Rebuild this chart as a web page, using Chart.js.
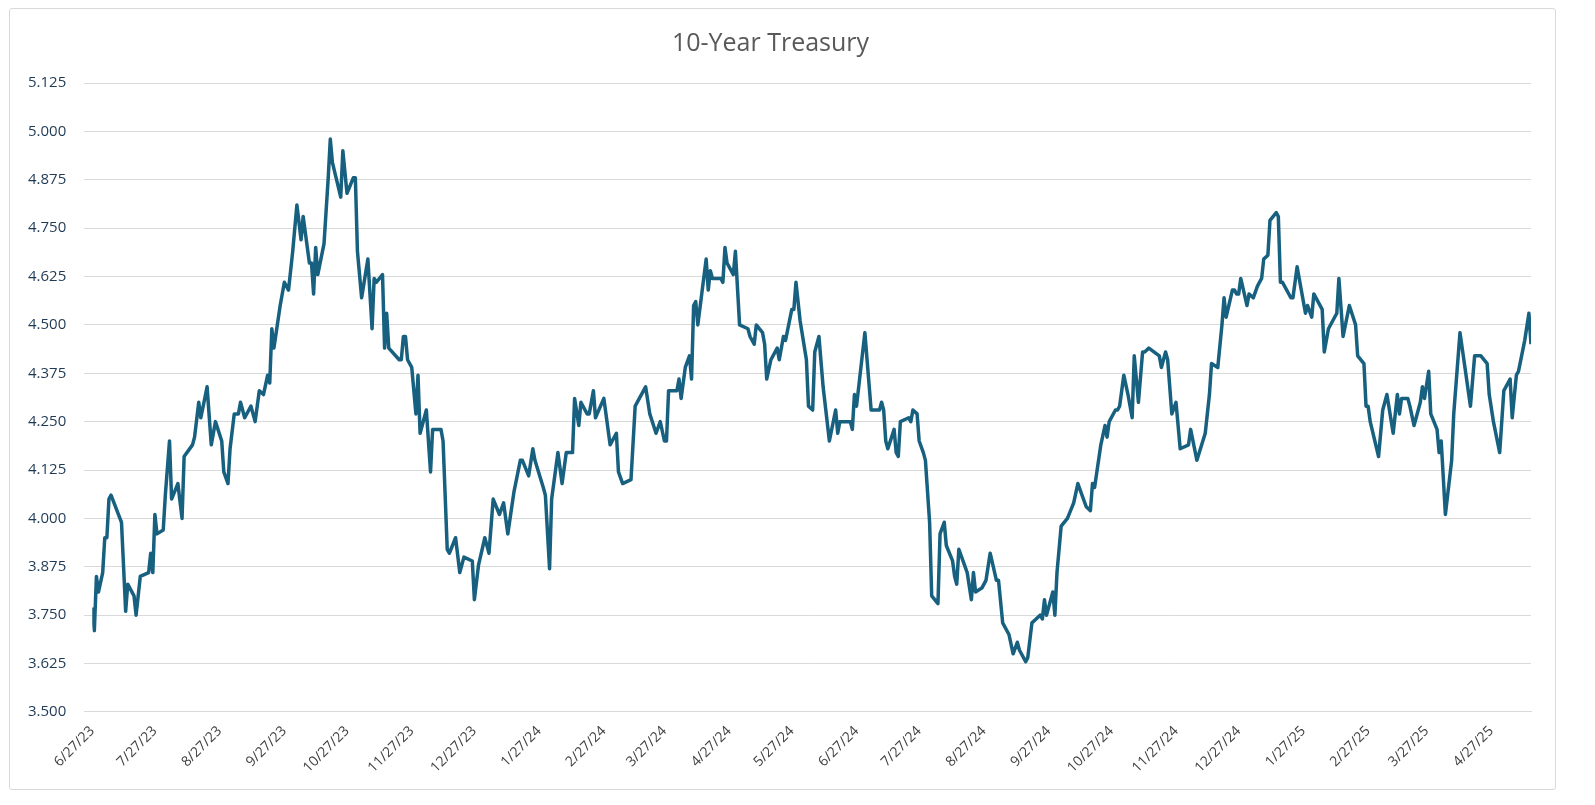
<!DOCTYPE html>
<html>
<head>
<meta charset="utf-8">
<script src="https://cdn.jsdelivr.net/npm/chart.js@4.4.1/dist/chart.umd.min.js"></script>
<style>
body{margin:0;background:#fff;font-family:"Open Sans",sans-serif}
#box{position:absolute;left:9px;top:8px;width:1547px;height:782px;border:1px solid #d9d9d9;border-radius:3px;box-sizing:border-box}
</style>
</head>
<body>
<div id="box"><canvas id="c"></canvas></div>
<script>
// days since start date, and 10-year yield (%)
const startDate = "2023-06-27"
const days = [0,1,2,3,5,6,7,8,9,14,16,17,20,21,23,27,28,29,30,31,34,35,37,38,41,43,44,48,49,51,52,55,57,59,62,63,65,66,68,70,71,73,76,78,80,82,84,85,86,87,90,92,94,96,98,100,101,104,105,106,107,108,111,113,114,115,119,120,122,125,126,127,129,132,134,135,136,139,140,141,142,147,148,149,150,151,
153,155,156,157,160,162,163,167,168,170,171,174,176,178,182,183,185,188,190,192,195,197,199,202,205,206,209,211,212,216,217,219,220,223,225,227,230,231,233,234,237,238,240,241,245,248,251,252,254,258,260,262,265,267,270,272,274,275,276,280,281,282,284,286,287,288,289,290,294,295,296,297,301,302,
303,304,307,308,310,314,315,317,318,321,322,323,325,328,329,331,332,335,336,337,339,342,343,345,346,348,350,353,356,357,358,363,364,365,366,370,373,377,378,379,380,381,384,385,386,387,391,392,393,395,396,398,399,401,402,405,406,408,409,412,413,414,415,417,419,421,422,423,426,428,430,433,434,436,439,441,443,444,447,448,450,452,454,455,456,457,460,461,462,464,
467,470,472,476,478,479,480,483,485,486,487,490,491,492,494,496,498,499,501,503,504,506,511,512,514,515,517,519,521,525,526,529,533,535,536,539,541,542,543,546,547,548,549,550,553,554,556,558,560,561,563,564,567,568,569,570,574,575,577,581,582,584,585,589,590,592,594,596,597,599,602,605,606,609,610,611,612,616,618,620,623,625,626,627,630,631,633,636,637,638,640,641,644,645,646,648,651,652,655,660,662,665,668,669,671,674,676,679,680,682,683,686,688,689]
const yields = [3.77,3.71,3.85,3.81,3.86,3.95,3.95,4.05,4.06,3.99,3.76,3.83,3.80,3.75,3.85,3.86,3.91,3.86,4.01,3.96,3.97,4.06,4.20,4.05,4.09,4.00,4.16,4.19,4.21,4.30,4.26,4.34,4.19,4.25,4.20,4.12,4.09,4.18,4.27,4.27,4.30,4.26,4.29,4.25,4.33,4.32,4.37,4.35,4.49,4.44,4.55,4.61,4.59,4.69,4.81,4.72,4.78,4.66,4.66,4.58,4.70,4.63,4.71,4.88,4.98,4.92,4.83,4.95,4.84,4.88,4.88,4.69,4.57,4.67,4.49,4.62,4.61,4.63,4.44,4.53,4.44,4.41,4.41,4.47,4.47,4.41,
4.39,4.27,4.37,4.22,4.28,4.12,4.23,4.23,4.20,3.92,3.91,3.95,3.86,3.90,3.89,3.79,3.88,3.95,3.91,4.05,4.01,4.04,3.96,4.07,4.15,4.15,4.11,4.18,4.15,4.08,4.06,3.87,4.05,4.17,4.09,4.17,4.17,4.31,4.24,4.30,4.27,4.27,4.33,4.26,4.31,4.19,4.22,4.12,4.09,4.10,4.29,4.31,4.34,4.27,4.22,4.25,4.20,4.20,4.33,4.33,4.36,4.31,4.39,4.42,4.36,4.55,4.56,4.50,4.67,4.59,4.64,4.62,4.62,4.61,
4.70,4.66,4.63,4.69,4.50,4.49,4.47,4.45,4.50,4.48,4.45,4.36,4.41,4.44,4.41,4.47,4.46,4.54,4.54,4.61,4.51,4.41,4.29,4.28,4.43,4.47,4.34,4.20,4.28,4.22,4.25,4.25,4.23,4.32,4.29,4.48,4.28,4.28,4.30,4.28,4.20,4.18,4.23,4.17,4.16,4.25,4.26,4.25,4.28,4.27,4.20,4.17,4.15,3.99,3.80,3.78,3.96,3.99,3.93,3.89,3.85,3.83,3.92,3.89,3.86,3.79,3.86,3.81,3.82,3.84,3.91,3.84,3.84,3.73,3.70,3.65,3.68,3.66,3.63,3.64,3.73,3.74,3.75,3.74,3.79,3.75,3.81,3.75,3.86,3.98,
4.00,4.04,4.09,4.03,4.02,4.09,4.08,4.19,4.24,4.21,4.25,4.28,4.28,4.29,4.37,4.32,4.26,4.42,4.30,4.43,4.43,4.44,4.42,4.39,4.43,4.41,4.27,4.30,4.18,4.19,4.23,4.15,4.22,4.32,4.40,4.39,4.50,4.57,4.52,4.59,4.59,4.58,4.58,4.62,4.55,4.58,4.57,4.60,4.62,4.67,4.68,4.77,4.79,4.78,4.61,4.61,4.57,4.57,4.65,4.53,4.55,4.52,4.58,4.54,4.43,4.49,4.51,4.53,4.62,4.47,4.55,4.50,4.42,4.40,4.29,4.29,4.25,4.16,4.28,4.32,4.22,4.32,4.27,4.31,4.31,4.29,4.24,4.30,4.34,4.31,4.38,4.27,4.23,4.17,4.20,4.01,4.15,4.27,4.48,4.29,4.42,4.42,4.40,4.32,4.25,4.17,4.33,4.36,4.26,4.37,4.38,4.46,4.53,4.45]
// x ticks: the 27th of each month, as days since start
const tickDays = [0,30,61,92,122,153,183,214,245,274,305,335,366,396,427,458,488,519,549,580,611,639,670]
const yMin = 3.5, yMax = 5.125, yStep = 0.125

const t0 = new Date(startDate + "T00:00:00")
function dayLabel(d){
  const dt = new Date(t0.getTime() + d*86400000)
  return (dt.getMonth()+1) + "/" + dt.getDate() + "/" + String(dt.getFullYear()).slice(2)
}

const points = days.map((d,i)=>({x:d, y:yields[i]}))

new Chart(document.getElementById("c"),{
  type:"line",
  data:{datasets:[{
    label:"10-Year Treasury",
    data:points,
    borderColor:"#17607f",
    borderWidth:3.5,
    pointRadius:0,
    tension:0,
    borderJoinStyle:"round"
  }]},
  options:{
    responsive:true,
    maintainAspectRatio:false,
    animation:false,
    layout:{padding:{left:0,right:24,top:6,bottom:10}},
    plugins:{
      legend:{display:false},
      tooltip:{enabled:false},
      title:{display:true,text:"10-Year Treasury",color:"#595959",
        font:{family:"Open Sans",size:25,weight:"normal"},padding:{top:14,bottom:24}}
    },
    scales:{
      x:{
        type:"linear",
        min:0,max:689,
        afterBuildTicks:axis=>{axis.ticks = tickDays.map(v=>({value:v}))},
        grid:{display:false},
        border:{color:"#d9d9d9"},
        ticks:{
          callback:v=>dayLabel(v),
          minRotation:45,maxRotation:45,
          color:"#404040",
          font:{family:"Open Sans",size:14},
          autoSkip:false
        }
      },
      y:{
        min:yMin,max:yMax,
        grid:{color:"#d9d9d9"},
        border:{display:false},
        ticks:{
          stepSize:yStep,
          callback:v=>v.toFixed(3),
          color:"#1f3a55",
          font:{family:"Open Sans",size:15},
          padding:18
        }
      }
    }
  }
})
</script>
</body>
</html>
